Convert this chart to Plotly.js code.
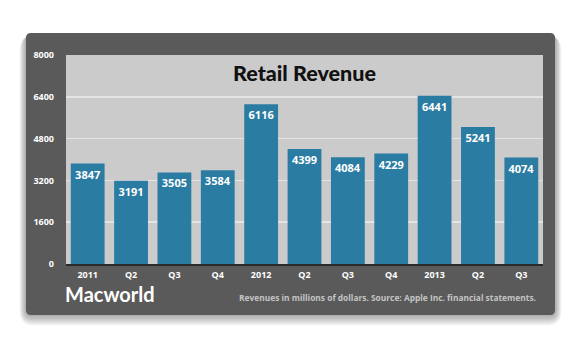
<!DOCTYPE html>
<html><head><meta charset="utf-8">
<script src="https://cdn.plot.ly/plotly-3.0.1.min.js"></script>
<style>html,body{margin:0;padding:0;background:#fff;}#chart{width:580px;height:349px;}</style>
</head><body><div id="chart"></div>
<script>
const periods = ["2011","Q2","Q3","Q4","2012","Q2","Q3","Q4","2013","Q2","Q3"];
const revenue = [3847,3191,3505,3584,6116,4399,4084,4229,6441,5241,4074];
const yTicks = [0,1600,3200,4800,6400,8000];
const chartTitle = "Retail Revenue";
const sourceNote = "Revenues in millions of dollars. Source: Apple Inc. financial statements.";
const brand = "Macworld";

const W = 580, H = 349, L = 66, R = 37, T = 55, B = 85;
const pw = W - L - R, ph = H - T - B;
const px = x => (x - L) / pw;
const py = y => (H - B - y) / ph;
function rr(x0, y0, x1, y1, r) {
  const X = px, Y = py;
  return `M${X(x0+r)},${Y(y0)} L${X(x1-r)},${Y(y0)} Q${X(x1)},${Y(y0)} ${X(x1)},${Y(y0+r)} L${X(x1)},${Y(y1-r)} Q${X(x1)},${Y(y1)} ${X(x1-r)},${Y(y1)} L${X(x0+r)},${Y(y1)} Q${X(x0)},${Y(y1)} ${X(x0)},${Y(y1-r)} L${X(x0)},${Y(y0+r)} Q${X(x0)},${Y(y0)} ${X(x0+r)},${Y(y0)} Z`;
}
const shapes = [];
for (let i = 8; i >= 1; i--) {
  shapes.push({type:'path', xref:'paper', yref:'paper', layer:'below',
    path: rr(26 - i*0.8, 33 + i*0.4, 555 + i*0.8, 315 + i*1.3, 6 + i),
    fillcolor:'rgba(0,0,0,0.045)', line:{width:0}});
}
shapes.push({type:'path', xref:'paper', yref:'paper', layer:'below',
  path: rr(26, 33, 555, 315, 5), fillcolor:'#5a5a5a', line:{width:0}});
shapes.push({type:'rect', xref:'paper', yref:'paper', layer:'below',
  x0:0, x1:1, y0:0, y1:1, fillcolor:'#cbcbcb', line:{width:0}});

const xIdx = periods.map((_, i) => i);
const trace = {
  type:'bar', x:xIdx, y:revenue,
  text: revenue.map(String), textposition:'inside', insidetextanchor:'end',
  textangle:0, constraintext:'none',
  textfont:{family:'"Open Sans", Lato, sans-serif', size:11, color:'#ffffff', weight:700},
  marker:{color:'#2b7ca3', line:{width:0}},
  hoverinfo:'none', cliponaxis:false
};
const layout = {
  width:W, height:H, margin:{l:L, r:R, t:T, b:B, pad:0},
  paper_bgcolor:'#ffffff', plot_bgcolor:'rgba(0,0,0,0)',
  showlegend:false, bargap:0.22,
  font:{family:'Lato, "Open Sans", sans-serif'},
  xaxis:{tickvals:xIdx, ticktext:periods, range:[-0.5, periods.length-0.5],
    showgrid:false, zeroline:false, showline:true, linecolor:'#2a2a2a', linewidth:1.5,
    ticks:'', ticklabelstandoff:2, fixedrange:true,
    tickfont:{family:'"Open Sans", Lato, sans-serif', size:9, color:'#ffffff', weight:700}},
  yaxis:{range:[0,8000], tickvals:yTicks, ticktext:yTicks.map(String),
    showgrid:true, gridcolor:'#e4e4e4', gridwidth:1.5, zeroline:false, showline:false,
    ticks:'', ticklabelstandoff:11, fixedrange:true,
    tickfont:{family:'"Open Sans", Lato, sans-serif', size:9, color:'#ffffff', weight:700}},
  shapes: shapes,
  annotations:[
    {text:chartTitle, xref:'paper', yref:'paper', x:0.5, y:py(72.5), xanchor:'center', yanchor:'middle',
     showarrow:false, font:{family:'Lato, "Open Sans", sans-serif', size:21.5, color:'#111111', weight:900}},
    {text:brand, xref:'paper', yref:'paper', x:px(63), y:py(294), xanchor:'left', yanchor:'middle',
     showarrow:false, font:{family:'Lato, "Open Sans", sans-serif', size:20, color:'#ffffff', weight:700}},
    {text:sourceNote, xref:'paper', yref:'paper', x:px(538), y:py(297), xanchor:'right', yanchor:'middle',
     showarrow:false, font:{family:'"Open Sans", Lato, sans-serif', size:8.4, color:'#c4c4c4', weight:700}}
  ]
};
Plotly.newPlot('chart', [trace], layout, {displayModeBar:false, staticPlot:true});
</script></body></html>
